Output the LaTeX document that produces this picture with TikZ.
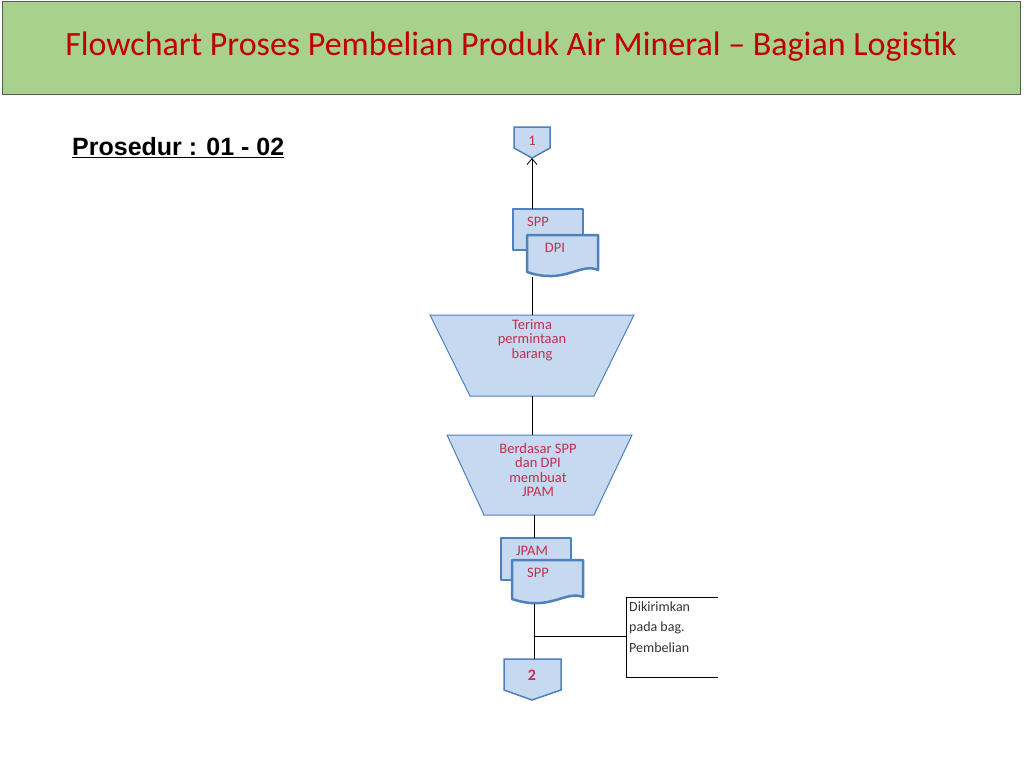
\documentclass[tikz,border=0pt]{standalone}
\usetikzlibrary{arrows.meta}
\usepackage{fontspec}
\setmainfont{Carlito}
\newfontfamily\arialf{Liberation Sans}
\definecolor{boxblue}{HTML}{C6D9F1}
\definecolor{edgeblue}{HTML}{4F81BD}
\definecolor{txtred}{HTML}{C0304C}
\definecolor{titlegreen}{HTML}{A9D18E}
\definecolor{titlered}{HTML}{C00000}
\begin{document}
\begin{tikzpicture}[x=1pt,y=-1pt,
  shapebox/.style={fill=boxblue,draw=edgeblue,line width=1pt},
  docbox/.style={fill=boxblue,draw=edgeblue,line width=2.5pt,line join=round},
  lbl/.style={text=txtred,font=\fontsize{14.5}{14.5}\selectfont,align=center,inner sep=0pt},
  link/.style={draw=black,line width=0.8pt}]
\useasboundingbox (0,0) rectangle (1024,768);
\fill[white] (0,0) rectangle (1024,768);
% title
\draw[fill=titlegreen,draw=gray!70!black,line width=1pt] (2,2) rectangle (1020,94);
\node[text=titlered,font=\fontsize{34}{40}\selectfont] (title) at (511,47) {Flowchart Proses Pembelian Produk Air Mineral -- Bagian Logistik};
\node[font=\arialf\bfseries\fontsize{25}{28}\selectfont,anchor=west,inner sep=0pt] (pros) at (72,148) {\underline{Prosedur : 01 - 02}};
% connector 1
\draw[shapebox,line width=1.5pt] (514,127) -- (550,127) -- (550,148) -- (532,158) -- (514,148) -- cycle;
\node[lbl] (c1) at (532,141) {1};
\coordinate (c1b) at (532,158);
% doc group 1
\draw[docbox] (513,209) -- (583,209) -- (583,250) -- (513,250) -- cycle;
\draw[docbox] (527,235) -- (598,235) -- (598,270) .. controls (580,262) and (565,285) .. (527,272) -- cycle;
\node[lbl] (d1a) at (538,222) {SPP};
\node[lbl] (d1b) at (555,248) {DPI};
\coordinate (d1t) at (532,209);
\coordinate (d1bot) at (532,277);
\draw[link,-{Straight Barb[length=6pt,width=10pt]}] (d1t) -- (c1b);
% trapezoid 1
\draw[shapebox] (430,315) -- (634,315) -- (594,396) -- (470,396) -- cycle;
\node[lbl] (t1) at (532,340) {Terima\\permintaan\\barang};
\coordinate (t1t) at (532,315);
\coordinate (t1b) at (532,396);
\draw[link] (d1bot) -- (t1t);
% trapezoid 2
\draw[shapebox] (447,435) -- (632,435) -- (594,515) -- (484,515) -- cycle;
\node[lbl] (t2) at (538,470) {Berdasar SPP\\dan DPI\\membuat\\JPAM};
\coordinate (t2t) at (532,435);
\coordinate (t2b) at (534,515);
\draw[link] (t1b) -- (t2t);
% doc group 2
\draw[docbox] (501,538) -- (571,538) -- (571,580) -- (501,580) -- cycle;
\draw[docbox] (512,560) -- (583,560) -- (583,597) .. controls (565,590) and (550,612) .. (512,599) -- cycle;
\node[lbl] (d2a) at (532,551) {JPAM};
\node[lbl] (d2b) at (538,573) {SPP};
\coordinate (d2t) at (534,538);
\coordinate (d2bot) at (534,604);
\draw[link] (t2b) -- (d2t);
% connector 2
\draw[shapebox,line width=1.5pt] (504,659) -- (561,659) -- (561,690) -- (532,700) -- (504,690) -- cycle;
\node[lbl,font=\bfseries\fontsize{16}{16}\selectfont] (c2) at (532,675) {2};
\coordinate (c2t) at (534,659);
\draw[link] (d2bot) -- (c2t);
% annotation
\coordinate (j) at (534,636);
\coordinate (ann) at (626,636);
\draw[link] (j) -- (ann);
\draw[link] (718,597) -- (626,597) -- (626,677) -- (718,677);
\node[anchor=west,align=left,text=black!80,font=\fontsize{14}{20.5}\selectfont,inner sep=0pt] (annt) at (629,627) {Dikirimkan\\pada bag.\\Pembelian};
\end{tikzpicture}
\end{document}
